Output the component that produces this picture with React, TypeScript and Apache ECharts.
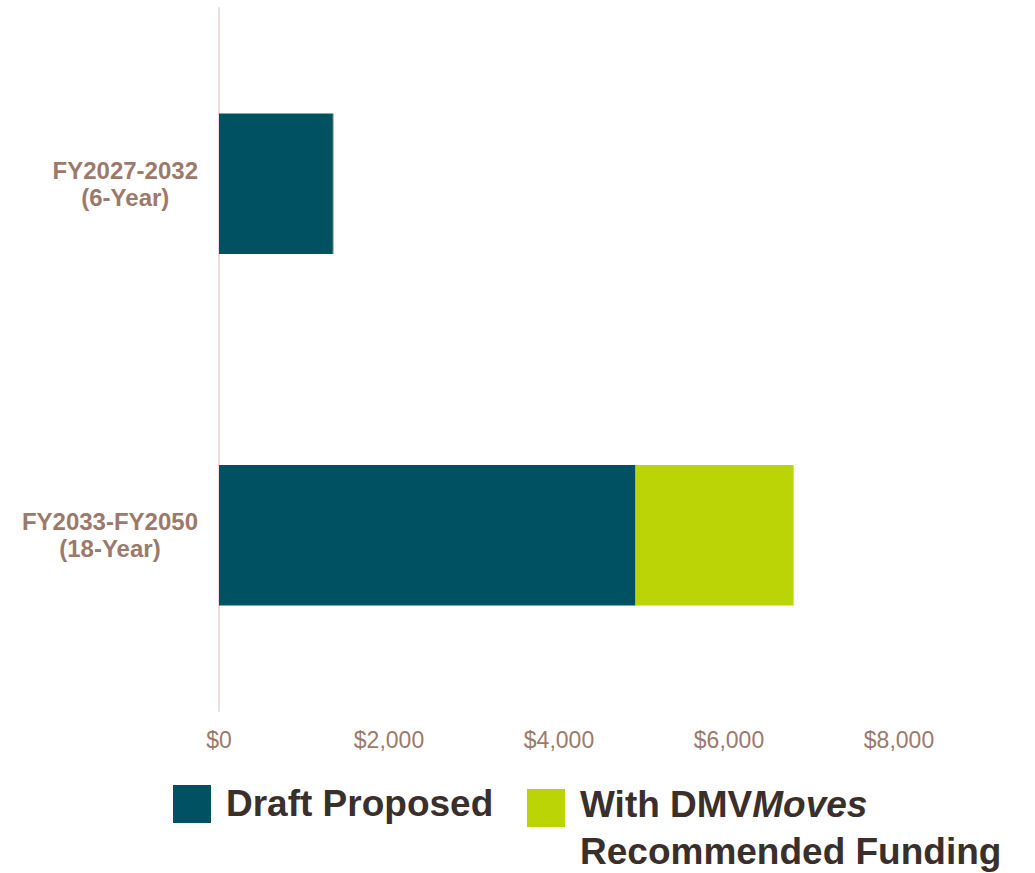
import React, { useEffect, useRef } from "react";
import * as echarts from "echarts";

const categories = ["FY2027-2032\n(6-Year)", "FY2033-FY2050\n(18-Year)"];
const draftProposed = [1340, 4900];
const withDmvMoves = [12, 1860];
const xMin = 0;
const xMax = 8000;
const xInterval = 2000;

const DARK = "#005263";
const GREEN = "#bad405";
const LABEL = "#9c7a6b";
const LEGEND_TEXT = "#3a2f2b";
const FONT = "'Liberation Sans', Arial, sans-serif";

export default function App() {
  const ref = useRef<HTMLDivElement>(null);
  useEffect(() => {
    if (!ref.current) return;
    const chart = echarts.init(ref.current, undefined, { renderer: "svg" });
    chart.setOption({
      animation: false,
      backgroundColor: "#ffffff",
      textStyle: { fontFamily: FONT },
      grid: { left: 219, right: 136, top: 8, bottom: 162, containLabel: false },
      xAxis: {
        type: "value",
        min: xMin,
        max: xMax,
        interval: xInterval,
        axisLine: { show: false },
        axisTick: { show: false },
        splitLine: { show: false },
        axisLabel: {
          margin: 17,
          fontSize: 23,
          color: LABEL,
          fontFamily: FONT,
          formatter: (v: number) => "$" + v.toLocaleString("en-US"),
        },
      },
      yAxis: {
        type: "category",
        inverse: true,
        data: categories,
        axisLine: { show: true, lineStyle: { color: "#e8dfdc", width: 2 } },
        axisTick: { show: false },
        splitLine: { show: false },
        axisLabel: {
          margin: 21,
          formatter: (v: string) =>
            v
              .split("\n")
              .map((l) => `{c|${l}}`)
              .join("\n"),
          rich: {
            c: {
              align: "center",
              fontSize: 24,
              fontWeight: "bold",
              lineHeight: 27,
              color: LABEL,
              fontFamily: FONT,
            },
          },
        },
      },
      legend: { show: false },
      series: [
        {
          name: "Draft Proposed",
          type: "bar",
          stack: "total",
          barWidth: "40%",
          data: draftProposed,
          itemStyle: { color: DARK },
        },
        {
          name: "With DMVMoves Recommended Funding",
          type: "bar",
          stack: "total",
          barWidth: "40%",
          data: withDmvMoves,
          itemStyle: { color: GREEN },
        },
      ],
      graphic: [
        {
          type: "rect",
          left: 173,
          top: 785,
          shape: { width: 38, height: 38 },
          style: { fill: DARK },
        },
        {
          type: "text",
          left: 226,
          top: 785,
          style: {
            text: "Draft Proposed",
            fontSize: 37,
            fontWeight: "bold",
            fontFamily: FONT,
            fill: LEGEND_TEXT,
          },
        },
        {
          type: "rect",
          left: 527,
          top: 789,
          shape: { width: 38, height: 38 },
          style: { fill: GREEN },
        },
        {
          type: "text",
          left: 580,
          top: 786,
          style: {
            text: "{b|With DMV}{i|Moves}\n{b|Recommended Funding}",
            rich: {
              b: {
                fontSize: 37,
                fontWeight: "bold",
                fontFamily: FONT,
                fill: LEGEND_TEXT,
                lineHeight: 47,
              },
              i: {
                fontSize: 37,
                fontWeight: "bold",
                fontStyle: "italic",
                fontFamily: FONT,
                fill: LEGEND_TEXT,
                lineHeight: 47,
              },
            },
          },
        },
      ],
    });
    return () => chart.dispose();
  }, []);
  return (
    <div
      ref={ref}
      style={{ position: "absolute", left: 0, top: 0, width: 1035, height: 873 }}
    />
  );
}
